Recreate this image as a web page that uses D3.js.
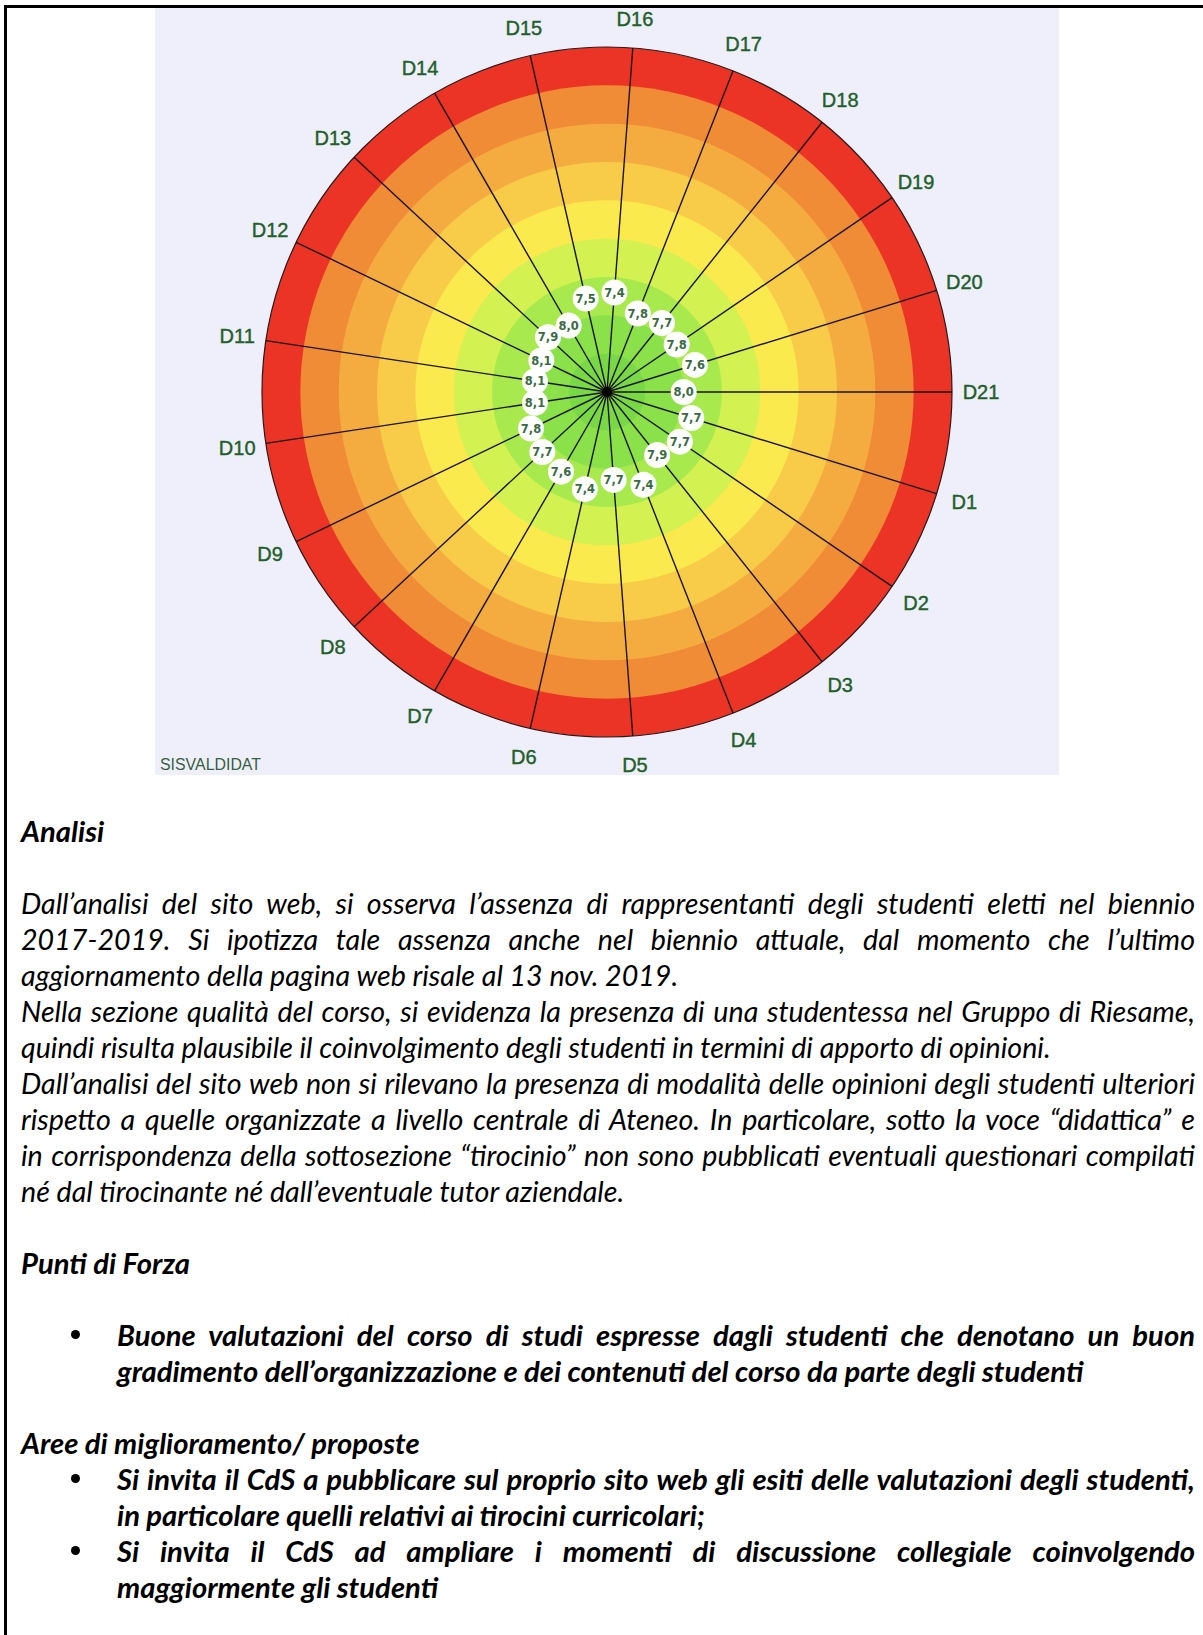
<!DOCTYPE html>
<html>
<head>
<meta charset="utf-8">
<script src="https://cdn.jsdelivr.net/npm/d3@7"></script>
<style>
	body { margin: 0; background: #fff; width: 1203px; height: 1635px; position: relative; overflow: hidden; }
	#frame-top { position: absolute; left: 4px; top: 5px; width: 1199px; height: 3px; background: #000; }
	#frame-left { position: absolute; left: 4px; top: 5px; width: 3px; height: 1630px; background: #000; }
	#chart { position: absolute; left: 155px; top: 8px; }
	#text { position: absolute; left: 21px; top: 813px; width: 1174px; font-family: Lato, "Open Sans", sans-serif; font-style: italic; color: #000; }
	.row { height: 36px; line-height: 36px; white-space: nowrap; position: relative; }
	.bold { font-weight: bold; }
	.indent { padding-left: 96px; }
	.dot { position: absolute; left: 50px; top: 13px; width: 9px; height: 9px; border-radius: 50%; background: #000; }
</style>
</head>
<body>
<div id="frame-top"></div>
<div id="frame-left"></div>
<svg id="chart"></svg>
<div id="text"></div>
<script>
// values (scale 10 at centre, 1 on the rim)
const labels = d3.range(1, 22).map((i) => "D" + i);
const values = [7.7, 7.7, 7.9, 7.4, 7.7, 7.4, 7.6, 7.7, 7.8, 8.1, 8.1, 8.1, 7.9, 8.0, 7.5, 7.4, 7.8, 7.7, 7.8, 7.6, 8.0];
const ringTicks = [10, 9, 8, 7, 6, 5, 4, 3, 2, 1];
const ringColors = ["#78d846", "#8ae14a", "#a8ea4e", "#d3f151", "#fbea4e", "#f8cb48", "#f4ac41", "#f08b36", "#eb3425"];

const paragraph = [
	["Dall’analisi del sito web, si osserva l’assenza di rappresentanti degli studenti eletti nel biennio", true],
	["2017-2019. Si ipotizza tale assenza anche nel biennio attuale, dal momento che l’ultimo", true],
	["aggiornamento della pagina web risale al 13 nov. 2019.", false],
	["Nella sezione qualità del corso, si evidenza la presenza di una studentessa nel Gruppo di Riesame,", true],
	["quindi risulta plausibile il coinvolgimento degli studenti in termini di apporto di opinioni.", false],
	["Dall’analisi del sito web non si rilevano la presenza di modalità delle opinioni degli studenti ulteriori", true],
	["rispetto a quelle organizzate a livello centrale di Ateneo. In particolare, sotto la voce “didattica” e", true],
	["in corrispondenza della sottosezione “tirocinio” non sono pubblicati eventuali questionari compilati", true],
	["né dal tirocinante né dall’eventuale tutor aziendale.", false],
];
const strengths = [
	["Buone valutazioni del corso di studi espresse dagli studenti che denotano un buon", "gradimento dell’organizzazione e dei contenuti del corso da parte degli studenti"],
];
const proposals = [
	["Si invita il CdS a pubblicare sul proprio sito web gli esiti delle valutazioni degli studenti,", "in particolare quelli relativi ai tirocini curricolari;"],
	["Si invita il CdS ad ampliare i momenti di discussione collegiale coinvolgendo", "maggiormente gli studenti"],
];

// ---------- chart ----------
let width = 904,
	height = 767;
let cx = 452,
	cy = 384,
	R = 345;

let svg = d3.select("#chart").attr("width", width).attr("height", height);
svg.append("rect").attr("width", width).attr("height", height).attr("fill", "#efeffc");

let radius = d3.scaleLinear().domain([10, 1]).range([0, R]);
let angle = d3.scaleLinear().domain([0, labels.length]).range([0, 2 * Math.PI]);

let g = svg.append("g").attr("transform", `translate(${cx},${cy})`);

// rings, outermost first
g.selectAll("circle.ring")
	.data(ringColors.map((c, i) => ({ color: c, r: radius(ringTicks[i + 1]) })).reverse())
	.enter()
	.append("circle")
	.attr("class", "ring")
	.attr("r", (d) => d.r)
	.attr("fill", (d) => d.color);

g.append("circle").attr("r", R).attr("fill", "none").attr("stroke", "#2a1a1a").attr("stroke-width", 1.2);

let pt = (i, r) => [r * Math.cos(angle(i + 1)), r * Math.sin(angle(i + 1))];

g.selectAll("line.spoke")
	.data(labels)
	.enter()
	.append("line")
	.attr("class", "spoke")
	.attr("x1", 0)
	.attr("y1", 0)
	.attr("x2", (d, i) => pt(i, R)[0])
	.attr("y2", (d, i) => pt(i, R)[1])
	.attr("stroke", "#1b1410")
	.attr("stroke-width", 1.4);

g.append("circle").attr("r", 5).attr("fill", "#000");

let fmt = (v) => d3.format(".1f")(v).replace(".", ",");

let marks = g
	.selectAll("g.val")
	.data(values)
	.enter()
	.append("g")
	.attr("class", "val")
	.attr("transform", (d, i) => `translate(${pt(i, radius(d))})`);
marks.append("circle").attr("r", 13).attr("fill", "#fff");
marks
	.append("text")
	.attr("text-anchor", "middle")
	.attr("dy", "0.36em")
	.attr("font-family", "DejaVu Sans, sans-serif")
	.attr("font-size", 11.5)
	.attr("font-weight", "bold")
	.attr("fill", "#3a6a44")
	.text(fmt);

g.selectAll("text.dim")
	.data(labels)
	.enter()
	.append("text")
	.attr("class", "dim")
	.attr("x", (d, i) => pt(i, R + 29)[0])
	.attr("y", (d, i) => pt(i, R + 29)[1])
	.attr("text-anchor", "middle")
	.attr("dy", "0.36em")
	.attr("font-family", "Liberation Sans, sans-serif")
	.attr("font-size", 20)
	.attr("fill", "#22602a")
	.attr("stroke", "#22602a")
	.attr("stroke-width", 0.4)
	.text((d) => d);

svg.append("text")
	.attr("x", 5)
	.attr("y", 762)
	.attr("font-family", "Liberation Sans, sans-serif")
	.attr("font-size", 16)
	.attr("fill", "#36603e")
	.attr("textLength", 101)
	.attr("lengthAdjust", "spacingAndGlyphs")
	.text("SISVALDIDAT");

// ---------- text block ----------
function fitSize(str, weight, target) {
	let ctx = document.createElement("canvas").getContext("2d");
	ctx.font = `italic ${weight} 100px Lato`;
	return (100 * target) / ctx.measureText(str).width;
}
let regSize = fitSize(paragraph[2][0], "normal", 658);
let boldSize = fitSize(strengths[0][1], "bold", 967);

let box = d3.select("#text");
let rows = [];
let blank = () => rows.push({ text: "", bold: false });
rows.push({ text: "Analisi", bold: true });
blank();
paragraph.forEach((p) => rows.push({ text: p[0], bold: false, justify: p[1] }));
blank();
rows.push({ text: "Punti di Forza", bold: true });
blank();
strengths.forEach((b) => {
	rows.push({ text: b[0], bold: true, justify: true, indent: true, dot: true });
	rows.push({ text: b[1], bold: true, indent: true });
});
blank();
rows.push({ text: "Aree di miglioramento/ proposte", bold: true });
proposals.forEach((b) => {
	rows.push({ text: b[0], bold: true, justify: true, indent: true, dot: true });
	rows.push({ text: b[1], bold: true, indent: true });
});

let divs = box
	.selectAll("div.row")
	.data(rows)
	.enter()
	.append("div")
	.attr("class", (d) => "row" + (d.bold ? " bold" : "") + (d.indent ? " indent" : ""))
	.style("font-size", (d) => (d.bold ? boldSize : regSize) + "px");
divs.filter((d) => d.dot).append("div").attr("class", "dot");
divs.append("span").text((d) => d.text);

// justify single lines by spreading word gaps
divs.filter((d) => d.justify).each(function (d) {
	let span = d3.select(this).select("span").node();
	let target = d.indent ? 1174 - 96 : 1174;
	let w = span.getBoundingClientRect().width;
	let gaps = d.text.split(" ").length - 1;
	span.style.wordSpacing = (target - w) / gaps + "px";
});
</script>
</body>
</html>
